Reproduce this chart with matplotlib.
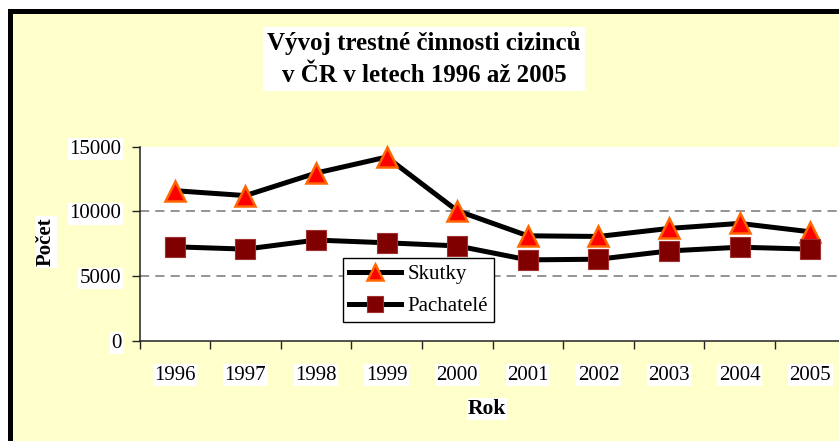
import matplotlib
matplotlib.use("Agg")
import matplotlib.pyplot as plt
from matplotlib.patches import Rectangle

years = ["1996", "1997", "1998", "1999", "2000", "2001", "2002", "2003", "2004", "2005"]
skutky = [11600, 11220, 12960, 14200, 10050, 8110, 8060, 8680, 9070, 8420]
pachatele = [7260, 7080, 7780, 7570, 7330, 6250, 6300, 6940, 7230, 7080]
yticks = [0, 5000, 10000, 15000]

plt.rcParams['font.family'] = ['Liberation Serif', 'DejaVu Serif']

W, H = 839, 441
fig = plt.figure(figsize=(W / 100, H / 100), dpi=100)
fig.patch.set_facecolor('white')

# outer frame (black border + pale yellow fill)
fig.patches.append(Rectangle((8 / W, -0.1), 1.2, (H - 9) / H + 0.1,
                             transform=fig.transFigure, facecolor='black',
                             edgecolor='none', zorder=-10))
fig.patches.append(Rectangle((13 / W, -0.1), 1.2, (H - 14) / H + 0.1,
                             transform=fig.transFigure, facecolor='#FFFFCC',
                             edgecolor='none', zorder=-9))

left = 139.5 / W
right = 845.6 / W
bottom = 1 - 340.7 / H
top = 1 - 146.7 / H
ax = fig.add_axes([left, bottom, right - left, top - bottom])
ax.set_facecolor('white')

x = [i + 0.5 for i in range(len(years))]
ax.plot(x, skutky, color='black', lw=3.6, marker='^', ms=15,
        markerfacecolor='#FF0000', markeredgecolor='#FF6600', mew=1.8,
        label='Skutky', zorder=3, clip_on=False)
ax.plot(x, pachatele, color='black', lw=3.6, marker='s', ms=15,
        markerfacecolor='#800000', markeredgecolor='#A03030', mew=0.8,
        label='Pachatelé', zorder=3, clip_on=False)

ax.set_xlim(0, 10)
ax.set_ylim(0, 15000)
ax.set_yticks(yticks)
ax.set_yticklabels([str(v) for v in yticks], fontsize=15)
ax.set_xticks(range(0, 11))
ax.set_xticklabels([])
ax.set_xticks(x, minor=True)
ax.set_xticklabels(years, minor=True, fontsize=15)
ax.tick_params(axis='x', which='minor', length=0, pad=18)
ax.tick_params(axis='x', which='major', length=6, width=1, direction='out', color='#222222')
ax.tick_params(axis='y', length=6, width=1, direction='out', pad=7, color='#222222')

for lab in ax.get_yticklabels() + ax.get_xticklabels(minor=True):
    lab.set_bbox(dict(facecolor='white', edgecolor='none', pad=1))

for v in [5000, 10000]:
    ax.axhline(v, color='#777777', lw=1.1, ls=(0, (6, 4)), zorder=1)

for s in ['top', 'right']:
    ax.spines[s].set_visible(False)
for s in ['left', 'bottom']:
    ax.spines[s].set_color('#222222')
    ax.spines[s].set_linewidth(1.1)

fig.text(424 / W, 1 - 59 / H, "Vývoj trestné činnosti cizinců\nv ČR v letech 1996 až 2005",
         ha='center', va='center', fontsize=18, fontweight='bold', linespacing=1.5,
         bbox=dict(facecolor='white', edgecolor='none', pad=3))
fig.text(46 / W, 1 - 242 / H, "Počet", rotation=90, ha='center', va='center',
         fontsize=15, fontweight='bold',
         bbox=dict(facecolor='white', edgecolor='none', pad=1))
fig.text(487 / W, 1 - 409 / H, "Rok", ha='center', va='center',
         fontsize=15.5, fontweight='bold',
         bbox=dict(facecolor='white', edgecolor='none', pad=1))

leg = ax.legend(loc='upper left', bbox_to_anchor=(343 / W, 1 - 258 / H),
                bbox_transform=fig.transFigure, borderaxespad=0,
                fancybox=False, shadow=False, framealpha=1, edgecolor='black',
                fontsize=15, handlelength=2.5, handletextpad=0.3,
                markerscale=0.75, borderpad=0.3, labelspacing=0.6)
leg.get_frame().set_linewidth(1.0)
leg.set_zorder(5)

fig.savefig('out.png', dpi=100)
